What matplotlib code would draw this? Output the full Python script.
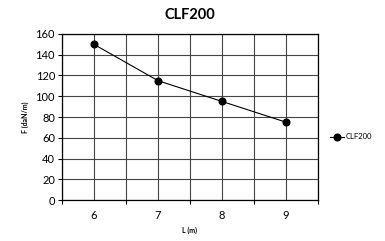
import matplotlib.pyplot as plt
import numpy as np

# data
L = [6, 7, 8, 9]
F = [150, 115, 95, 75]
series_name = 'CLF200'

plt.rcParams['font.family'] = ['Lato', 'DejaVu Sans']

fig = plt.figure(figsize=(3.85, 2.41), dpi=100)
ax = fig.add_axes([0.161, 0.170, 0.665, 0.689])

ax.plot(L, F, '-o', color='black', linewidth=0.8, markersize=4.8, label=series_name, zorder=3)

ax.set_xlim(5.5, 9.5)
ax.set_ylim(0, 160)
ax.set_xticks(L)
ax.set_xticks(np.arange(5.5, 9.6, 1.0), minor=True)
ax.set_yticks(np.arange(0, 161, 20))

ax.tick_params(axis='x', which='major', length=0, labelsize=8, pad=7)
ax.tick_params(axis='x', which='minor', length=3, width=0.8, direction='out')
ax.tick_params(axis='y', length=3, width=0.8, labelsize=8, pad=2)

ax.grid(True, which='both', axis='x', color='#444444', linewidth=0.8)
ax.grid(True, which='major', axis='y', color='#444444', linewidth=0.8)

for s in ax.spines.values():
    s.set_linewidth(0.9)
    s.set_color('black')

ax.set_title('CLF200', fontsize=10.5, fontweight='bold', pad=11)
ax.set_xlabel('L (m)', fontsize=5, fontweight='bold', labelpad=4)
ax.set_ylabel('F (daN/m)', fontsize=5, fontweight='bold', labelpad=5)

ax.legend(loc='center left', bbox_to_anchor=(1.02, 0.38), frameon=False,
          fontsize=5.5, handlelength=1.8, handletextpad=0.3)

fig.savefig('out.png', dpi=100)
